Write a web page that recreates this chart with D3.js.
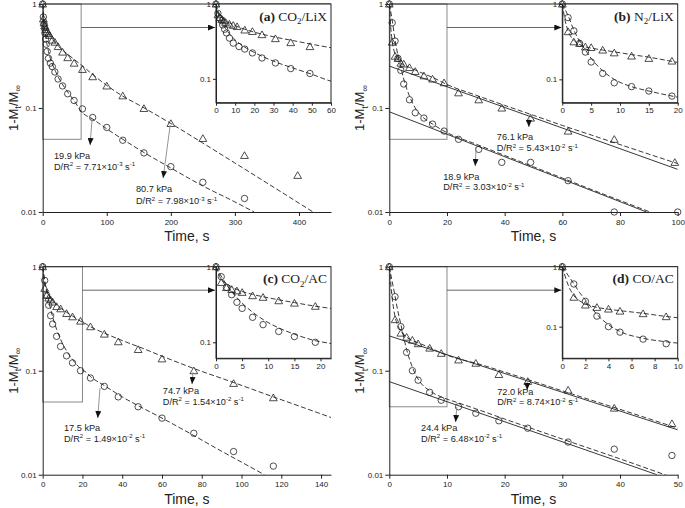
<!DOCTYPE html>
<html>
<head>
<meta charset="utf-8">
<title>Uptake curves</title>
<script src="https://cdnjs.cloudflare.com/ajax/libs/d3/7.8.5/d3.min.js"></script>
<style>
  body { margin: 0; background: #fff; }
  svg text { font-family: "Liberation Sans", Arial, sans-serif; fill: #222; }
</style>
</head>
<body>
<script>
// ---- (a) CO2/LiX ----
const aCircT = [0,1,2,3.5,4.5,5.5,7,9,12,15,19,24,31,39,49,62,78,100,125,158,200,250,315];
const aCircV = [1,0.75,0.645,0.525,0.46,0.41,0.35,0.30,0.27,0.25,0.222,0.19,0.163,0.137,0.118,0.098,0.081,0.065,0.049,0.037,0.0273,0.0193,0.0135];
const aTriT = [0,1,2,3,4,5,7,9,11,15,19,24,31,39,49,62,78,100,125,158,200,250,315,398];
const aTriV = [1,0.72,0.66,0.62,0.6,0.57,0.54,0.52,0.5,0.45,0.43,0.39,0.345,0.305,0.27,0.235,0.2,0.163,0.131,0.099,0.071,0.051,0.035,0.0225];
const aFitCircT = [0,1,2,3,4,5,7,9,12,15,20,25,30,40,50,60,80,100,125,150,200,250,300,330];
const aFitCircV = [1,0.78,0.66,0.58,0.52,0.47,0.4,0.35,0.3,0.265,0.225,0.195,0.172,0.14,0.115,0.093,0.077,0.063,0.05,0.04,0.0265,0.0178,0.0125,0.01];
const aFitTriT = [0,1,2,3,4,5,7,9,12,15,20,25,30,40,50,60,80,100,125,150,200,250,300,350,422];
const aFitTriV = [1,0.76,0.7,0.66,0.63,0.6,0.56,0.53,0.49,0.46,0.42,0.39,0.365,0.325,0.29,0.26,0.205,0.165,0.13,0.107,0.071,0.046,0.0296,0.019,0.01];
const aXTicks = [0,100,200,300,400];
const aInsetTicks = [0,10,20,30,40,50,60];
const aNoteKpa = ["19.9 kPa","80.7 kPa"];
const aNoteDR = [["7.71","-3"],["7.98","-3"]];
const aNoteArrow = [[77,0.0784,74,0.044],[199,0.0687,188,0.0212]];
const aNoteText = [[17.6,0.0323,0.0256],[145.6,0.0156,0.0119]];

// ---- (b) N2/LiX ----
const bCircT = [0,1,2,3,4,5,7,9,12,15,19,24,31,39,49,62,78,100];
const bCircV = [1,0.66,0.44,0.30,0.23,0.17,0.12,0.09,0.08,0.07,0.06,0.05,0.04,0.03,0.03,0.02,0.01,0.01];
const bTriT = [0,1,2,3,4,5,7,9,12,15,19,24,31,39,49,62,78,99];
const bTriV = [1,0.43,0.315,0.30,0.27,0.265,0.245,0.225,0.204,0.19,0.175,0.14,0.12,0.1,0.08,0.06,0.05,0.03];
const bFitCircT = [0,1,2,3,4,5,7,9,12,15,20,30,40,50,60,70,80,90];
const bFitCircV = [1,0.7,0.45,0.32,0.245,0.19,0.13,0.1,0.08,0.07,0.058,0.045,0.035,0.0272,0.0212,0.0165,0.0129,0.0101];
const bFitTriT = [0,0.5,1,2,3,4,5,7,9,12,15,20,30,40,50,60,70,80,90,100];
const bFitTriV = [1,0.6,0.44,0.33,0.29,0.27,0.26,0.245,0.232,0.213,0.197,0.168,0.133,0.106,0.085,0.068,0.055,0.0445,0.036,0.0292];
const bLineCircT = [0,89.2], bLineCircV = [0.092,0.01];
const bLineTriT = [0,100], bLineTriV = [0.253,0.0257];
const bXTicks = [0,20,40,60,80,100];
const bInsetTicks = [0,5,10,15,20];
const bNoteKpa = ["76.1 kPa","18.9 kPa"];
const bNoteDR = [["5.43","-2"],["3.03","-2"]];
const bNoteArrow = [[48.4,0.0819,48.4,0.0657],[30.1,0.0422,29.8,0.0277]];
const bNoteText = [[37.3,0.0492,0.0382],[18.7,0.0205,0.0163]];

// ---- (c) CO2/AC ----
const cCircT = [0,1,2,3,4,5,7,9,12,15,19,24,31,38,48,60,76,96,116];
const cCircV = [1,0.738,0.533,0.426,0.338,0.281,0.214,0.171,0.139,0.119,0.1,0.085,0.0707,0.056,0.045,0.035,0.025,0.0167,0.0121];
const cTriT = [0,1,2,3,4,5,7,9,12,15,19,24,31,38,48,60,76,96,116];
const cTriV = [1,0.62,0.53,0.5,0.48,0.458,0.414,0.394,0.355,0.33,0.3,0.265,0.225,0.19,0.16,0.13,0.1,0.0755,0.055];
const cFitCircT = [0,1,2,3,4,5,7,9,12,15,19,22,24,31,40,50,60,75,90,100,111.5];
const cFitCircV = [1,0.75,0.58,0.47,0.39,0.33,0.25,0.2,0.155,0.128,0.105,0.096,0.088,0.072,0.056,0.044,0.035,0.0244,0.0168,0.0132,0.01];
const cFitTriT = [0,1,2,3,4,5,7,9,12,15,19,22,24,31,40,50,60,76,96,116,130,145];
const cFitTriV = [1,0.68,0.6,0.54,0.5,0.47,0.43,0.4,0.365,0.335,0.3,0.28,0.265,0.23,0.195,0.165,0.138,0.105,0.077,0.056,0.045,0.0355];
const cXTicks = [0,20,40,60,80,100,120,140];
const cInsetTicks = [0,5,10,15,20];
const cNoteKpa = ["74.7 kPa","17.5 kPa"];
const cNoteDR = [["1.54","-2"],["1.49","-2"]];
const cNoteArrow = [[75.6,0.097,75.1,0.0745],[28.8,0.0682,27.7,0.0351]];
const cNoteText = [[60.4,0.06,0.0471],[10.7,0.0264,0.0208]];

// ---- (d) CO/AC ----
const dCircT = [0,1,2,3,4,5,7,9,12,15,19,24,31,39,49];
const dCircV = [1,0.515,0.265,0.15,0.1,0.081,0.062,0.052,0.045,0.039,0.033,0.028,0.0206,0.0176,0.0153];
const dTriT = [0,1,2,3,4,5,7,9,12,15,19,24,31,39,49];
const dTriV = [1,0.31,0.23,0.21,0.197,0.182,0.165,0.147,0.127,0.118,0.092,0.079,0.0652,0.0437,0.031];
const dFitCircT = [0,0.5,1,1.5,2,3,4,5,7,9,12,15,20,30,40,48];
const dFitCircV = [1,0.72,0.52,0.37,0.28,0.16,0.108,0.083,0.064,0.056,0.049,0.043,0.0343,0.022,0.0142,0.0099];
const dFitTriT = [0,0.5,1,1.5,2,3,4,5,7,9,12,15,20,30,40,50];
const dFitTriV = [1,0.5,0.33,0.27,0.24,0.21,0.195,0.185,0.167,0.148,0.13,0.118,0.097,0.064,0.0425,0.028];
const dLineCircT = [0,46.4], dLineCircV = [0.0785,0.01];
const dLineTriT = [0,50], dLineTriV = [0.216,0.027];
const dXTicks = [0,10,20,30,40,50];
const dInsetTicks = [0,2,4,6,8,10];
const dNoteKpa = ["72.0 kPa","24.4 kPa"];
const dNoteDR = [["8.74","-2"],["6.48","-2"]];
const dNoteArrow = [[23.9,0.0815,23.9,0.0652],[11.7,0.0448,11.5,0.0321]];
const dNoteText = [[18.7,0.059,0.0463],[5.5,0.0264,0.0208]];

const yTicks = [1, 0.1, 0.01];

// panel layout, built from the arrays above (third item of a fit: dashed model curve; solid lines are main-plot only)
const panels = [
  { key: "a", box: [42.7, 4, 331, 212], xMax: 450, xTicks: aXTicks, zoom: [60, 0.05],
    inset: { box: [216, 4, 331, 102.7], xMax: 60, yMin: 0.048, ticks: aInsetTicks },
    circ: [aCircT, aCircV], tri: [aTriT, aTriV],
    fits: [[aFitCircT, aFitCircV, true], [aFitTriT, aFitTriV, true]],
    label: [["(a)", "b"], [" CO"], ["2", "sub"], ["/LiX"]],
    notes: [aNoteKpa, aNoteDR, aNoteArrow, aNoteText] },
  { key: "b", box: [389.3, 4, 677.7, 212], xMax: 100, xTicks: bXTicks, zoom: [20, 0.05],
    inset: { box: [562.3, 4, 677.7, 102.7], xMax: 20, yMin: 0.049, ticks: bInsetTicks },
    circ: [bCircT, bCircV], tri: [bTriT, bTriV],
    fits: [[bFitCircT, bFitCircV, true], [bFitTriT, bFitTriV, true],
           [bLineCircT, bLineCircV, false], [bLineTriT, bLineTriV, false]],
    label: [["(b)", "b"], [" N"], ["2", "sub"], ["/LiX"]],
    notes: [bNoteKpa, bNoteDR, bNoteArrow, bNoteText] },
  { key: "c", box: [42.7, 266.7, 331, 474.7], xMax: 145, xTicks: cXTicks, zoom: [20, 0.05],
    inset: { box: [216, 266.7, 331, 358.3], xMax: 22, yMin: 0.0614, ticks: cInsetTicks },
    circ: [cCircT, cCircV], tri: [cTriT, cTriV],
    fits: [[cFitCircT, cFitCircV, true], [cFitTriT, cFitTriV, true]],
    label: [["(c)", "b"], [" CO"], ["2", "sub"], ["/AC"]],
    notes: [cNoteKpa, cNoteDR, cNoteArrow, cNoteText] },
  { key: "d", box: [389.3, 266.7, 677.7, 474.7], xMax: 50, xTicks: dXTicks, zoom: [10, 0.045],
    inset: { box: [562.3, 266.7, 677.7, 358.3], xMax: 10, yMin: 0.0297, ticks: dInsetTicks },
    circ: [dCircT, dCircV], tri: [dTriT, dTriV],
    fits: [[dFitCircT, dFitCircV, true], [dFitTriT, dFitTriV, true],
           [dLineCircT, dLineCircV, false], [dLineTriT, dLineTriV, false]],
    label: [["(d)", "b"], [" CO/AC"]],
    notes: [dNoteKpa, dNoteDR, dNoteArrow, dNoteText] }
];

const svg = d3.select("body").append("svg").attr("width", 685).attr("height", 508);
const defs = svg.append("defs");
defs.append("marker").attr("id", "arr")
  .attr("markerUnits", "userSpaceOnUse")
  .attr("markerWidth", 7).attr("markerHeight", 6)
  .attr("refX", 7).attr("refY", 3).attr("orient", "auto")
  .append("path").attr("d", "M0,0L7,3L0,6Z").attr("fill", "#111");

// text with sub/superscripts and bold pieces
function rich(t, parts, fs, small) {
  let off = 0;
  parts.forEach(([s, m]) => {
    const target = m === "sup" ? -fs * 0.36 : m === "sub" ? fs * 0.28 : 0;
    const ts = t.append("tspan").attr("dy", target - off).text(s);
    if (m === "sup" || m === "sub") ts.attr("font-size", fs * (small || 0.66));
    if (m === "b") ts.attr("font-weight", "bold");
    off = target;
  });
}

function styleAxis(ax, fs) {
  ax.select(".domain").attr("stroke", "#222");
  ax.selectAll(".tick line").attr("stroke", "#222");
  ax.selectAll(".tick text").attr("font-size", fs)
    .attr("font-family", '"Liberation Sans", Arial, sans-serif').attr("fill", "#222");
}

function drawData(g, x, y, p, clipId, isInset) {
  const xm = x.domain()[1], ym = y.domain()[0];
  const line = d3.line().x(d => x(d[0])).y(d => y(d[1])).curve(d3.curveMonotoneX);
  const cg = g.append("g").attr("clip-path", `url(#${clipId})`);
  p.fits.filter(f => f[2] || !isInset).forEach(([t, v, dashed]) => {
    cg.append("path").datum(d3.zip(t, v)).attr("d", line)
      .attr("fill", "none").attr("stroke", "#222").attr("stroke-width", 0.9)
      .attr("stroke-dasharray", dashed ? "5,2.5" : null);
  });
  const inside = d => d[0] <= xm * 1.001 && d[1] >= ym * 0.999;
  g.selectAll(null).data(d3.zip(p.circ[0], p.circ[1]).filter(inside)).join("circle")
    .attr("cx", d => x(d[0])).attr("cy", d => y(d[1])).attr("r", 3.2)
    .attr("fill", "none").attr("stroke", "#222").attr("stroke-width", 0.8);
  g.selectAll(null).data(d3.zip(p.tri[0], p.tri[1]).filter(inside)).join("path")
    .attr("d", d3.symbol(d3.symbolTriangle, 26))
    .attr("transform", d => `translate(${x(d[0])},${y(d[1]) + 0.8})`)
    .attr("fill", "none").attr("stroke", "#222").attr("stroke-width", 0.8);
}

panels.forEach(p => {
  const [L, T, R, B] = p.box;
  const x = d3.scaleLinear().domain([0, p.xMax]).range([L, R]);
  const y = d3.scaleLog().domain([0.01, 1]).range([B, T]);
  const g = svg.append("g");

  defs.append("clipPath").attr("id", "clip" + p.key).append("rect")
    .attr("x", L).attr("y", T - 1).attr("width", R - L).attr("height", B - T + 1);

  // zoom window
  g.append("rect").attr("x", x(0)).attr("y", y(1))
    .attr("width", x(p.zoom[0]) - x(0)).attr("height", y(p.zoom[1]) - y(1))
    .attr("fill", "none").attr("stroke", "#8a8a8a").attr("stroke-width", 1);

  drawData(g, x, y, p, "clip" + p.key, false);

  // main axes
  g.append("line").attr("x1", L).attr("x2", R).attr("y1", T).attr("y2", T).attr("stroke", "#222");
  const xa = g.append("g").attr("transform", `translate(0,${B})`)
    .call(d3.axisBottom(x).tickValues(p.xTicks).tickSize(4).tickSizeOuter(0).tickPadding(3));
  styleAxis(xa, 8);
  const ya = g.append("g").attr("transform", `translate(${L},0)`)
    .call(d3.axisLeft(y).tickValues(yTicks).tickFormat(d => String(d)).tickSize(4).tickSizeOuter(0).tickPadding(2));
  styleAxis(ya, 8);

  g.append("text").attr("x", (L + R) / 2).attr("y", B + 29).attr("text-anchor", "middle")
    .attr("font-size", 14).text("Time, s");
  const yt = g.append("text").attr("transform", `translate(${L - 25},${(T + B) / 2}) rotate(-90)`)
    .attr("text-anchor", "middle").attr("font-size", 13);
  rich(yt, [["1-M"], ["t", "sub"], ["/M"], ["∞", "sub"]], 13, 0.72);

  // inset
  const [iL, iT, iR, iB] = p.inset.box;
  const ix = d3.scaleLinear().domain([0, p.inset.xMax]).range([iL, iR]);
  const iy = d3.scaleLog().domain([p.inset.yMin, 1]).range([iB, iT]);
  const ig = svg.append("g");
  ig.append("rect").attr("x", iL).attr("y", iT).attr("width", iR - iL).attr("height", iB - iT).attr("fill", "#fff");
  defs.append("clipPath").attr("id", "iclip" + p.key).append("rect")
    .attr("x", iL).attr("y", iT).attr("width", iR - iL).attr("height", iB - iT);
  drawData(ig, ix, iy, p, "iclip" + p.key, true);
  ig.append("rect").attr("x", iL).attr("y", iT).attr("width", iR - iL).attr("height", iB - iT)
    .attr("fill", "none").attr("stroke", "#222").attr("stroke-width", 1);
  const ixa = ig.append("g").attr("transform", `translate(0,${iB})`)
    .call(d3.axisBottom(ix).tickValues(p.inset.ticks).tickSize(3).tickSizeOuter(0).tickPadding(2));
  styleAxis(ixa, 8);
  const iya = ig.append("g").attr("transform", `translate(${iL},0)`)
    .call(d3.axisLeft(iy).tickValues([1, 0.1]).tickFormat(d => String(d)).tickSize(3).tickSizeOuter(0).tickPadding(2));
  styleAxis(iya, 8);

  // connector from zoom window to inset
  ig.append("line").attr("x1", x(p.zoom[0])).attr("x2", iL - 1)
    .attr("y1", T + 23.5).attr("y2", T + 23.5)
    .attr("stroke", "#555").attr("stroke-width", 0.9).attr("marker-end", "url(#arr)");

  // panel label
  const lt = ig.append("text").attr("x", iR - 4).attr("y", iT + 16.5).attr("text-anchor", "end")
    .attr("font-size", 13.5).style("font-family", '"Liberation Serif", "Times New Roman", serif');
  rich(lt, p.label, 13.5);

  // annotations
  const [kpa, dr, arrows, texts] = p.notes;
  kpa.forEach((k, i) => {
    const a = arrows[i], t = texts[i];
    g.append("line").attr("x1", x(a[0])).attr("y1", y(a[1])).attr("x2", x(a[2])).attr("y2", y(a[3]))
      .attr("stroke", "#888").attr("stroke-width", 0.9).attr("marker-end", "url(#arr)");
    g.append("text").attr("x", x(t[0])).attr("y", y(t[1])).attr("font-size", 9.2).text(k);
    const t2 = g.append("text").attr("x", x(t[0])).attr("y", y(t[2])).attr("font-size", 9.2);
    rich(t2, [["D/R"], ["2", "sup"], [" = " + dr[i][0] + "×10"], [dr[i][1], "sup"], [" s"], ["-1", "sup"]], 9.2);
  });
});
</script>
</body>
</html>
